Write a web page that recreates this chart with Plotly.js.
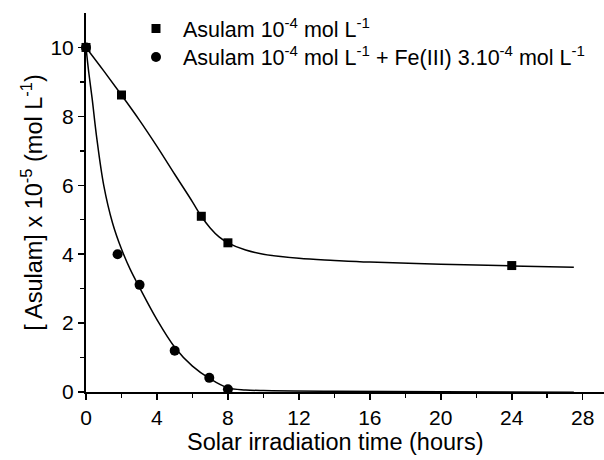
<!DOCTYPE html>
<html>
<head>
<meta charset="utf-8">
<script src="https://cdn.plot.ly/plotly-3.0.1.min.js"></script>
<style>html,body{margin:0;padding:0;background:#fff;}#chart{width:604px;height:460px;}</style>
</head>
<body>
<div id="chart"></div>
<script>
// Measured points
const asulamX = [0, 2, 6.5, 8, 24];
const asulamY = [10, 8.62, 5.1, 4.33, 3.67];
const asulamFeX = [0, 1.78, 3.02, 5, 6.95, 8, 26];
const asulamFeY = [10, 4.0, 3.11, 1.2, 0.41, 0.08, -0.03];

// Fitted curves
const fitAX = [0, 1, 2, 3, 4, 5, 6, 6.5, 7, 7.5, 8, 9, 10, 12, 14, 16, 20, 24, 27.5];
const fitAY = [10, 9.32, 8.62, 7.9, 7.13, 6.32, 5.52, 5.1, 4.76, 4.5, 4.33, 4.12, 4.0, 3.88, 3.82, 3.77, 3.71, 3.66, 3.62];
const fitFX = [0, 0.15, 0.35, 0.6, 1, 1.5, 2, 2.5, 3, 4, 5, 6, 7, 8, 9, 10, 14, 20, 27.5];
const fitFY = [10, 9.3, 8.5, 7.4, 6.0, 4.9, 4.15, 3.55, 3.05, 2.1, 1.3, 0.75, 0.38, 0.12, 0.06, 0.04, 0.02, 0.01, -0.01];

const legendNames = [
  "Asulam 10<sup>-4</sup> mol L<sup>-1</sup>",
  "Asulam 10<sup>-4</sup> mol L<sup>-1</sup> + Fe(III) 3.10<sup>-4</sup> mol L<sup>-1</sup>"
];
const xTitle = 'Solar irradiation time (hours)';
const yTitle = '[ Asulam] x 10<sup>-5</sup> (mol L<sup>-1</sup>)';
const xTicks = [0, 4, 8, 12, 16, 20, 24, 28];
const yTicks = [0, 2, 4, 6, 8, 10];

const FONT = "Liberation Sans, Arial, Helvetica, sans-serif";

const traces = [
  {x: fitAX, y: fitAY, mode: 'lines', line: {color: '#000', width: 1.5, shape: 'spline'}, showlegend: false, hoverinfo: 'skip'},
  {x: fitFX, y: fitFY, mode: 'lines', line: {color: '#000', width: 1.5, shape: 'spline'}, showlegend: false, hoverinfo: 'skip'},
  {x: asulamX, y: asulamY, mode: 'markers', name: legendNames[0], legend: 'legend', marker: {symbol: 'square', size: 9, color: '#000'}, cliponaxis: false},
  {x: asulamFeX, y: asulamFeY, mode: 'markers', name: legendNames[1], legend: 'legend2', marker: {symbol: 'circle', size: 10, color: '#000'}, cliponaxis: false}
];

const legendBase = {xanchor: 'left', yanchor: 'middle', itemwidth: 44, bgcolor: 'rgba(0,0,0,0)',
                    font: {size: 21.5, family: FONT}};

const layout = {
  width: 604, height: 460,
  margin: {l: 86, r: 0, t: 13, b: 68},
  paper_bgcolor: '#fff', plot_bgcolor: '#fff',
  font: {family: FONT, color: '#000', size: 20},
  showlegend: true,
  legend: Object.assign({}, legendBase, {x: 0.083, y: 1 - (28.5 - 13) / 379}),
  legend2: Object.assign({}, legendBase, {x: 0.083, y: 1 - (57 - 13) / 379}),
  xaxis: {
    range: [0, 29.2], tickvals: xTicks, ticktext: xTicks.map(String),
    showline: true, linecolor: '#000', linewidth: 2, showgrid: false, zeroline: false,
    ticks: 'outside', ticklen: 6, tickwidth: 1.5, tickcolor: '#000',
    minor: {tickvals: [2, 6, 10, 14, 18, 22, 26], ticks: 'outside', ticklen: 4, tickwidth: 1.5, tickcolor: '#000', showgrid: false},
    tickfont: {size: 21}
  },
  yaxis: {
    range: [0, 11], tickvals: yTicks, ticktext: yTicks.map(String),
    showline: true, linecolor: '#000', linewidth: 2, showgrid: false, zeroline: false,
    ticks: 'outside', ticklen: 6, tickwidth: 1.5, tickcolor: '#000',
    minor: {tickvals: [1, 3, 5, 7, 9], ticks: 'outside', ticklen: 4, tickwidth: 1.5, tickcolor: '#000', showgrid: false},
    tickfont: {size: 21},
    title: {text: yTitle, font: {size: 23.5}, standoff: 1}
  },
  annotations: [
    {text: xTitle, xref: 'paper', yref: 'paper', x: (335 - 86) / 518, y: -(442 - 392) / 379,
     xanchor: 'center', yanchor: 'middle', showarrow: false, font: {size: 23.5, family: FONT}}
  ]
};

Plotly.newPlot('chart', traces, layout, {staticPlot: true, displayModeBar: false});
</script>
</body>
</html>
